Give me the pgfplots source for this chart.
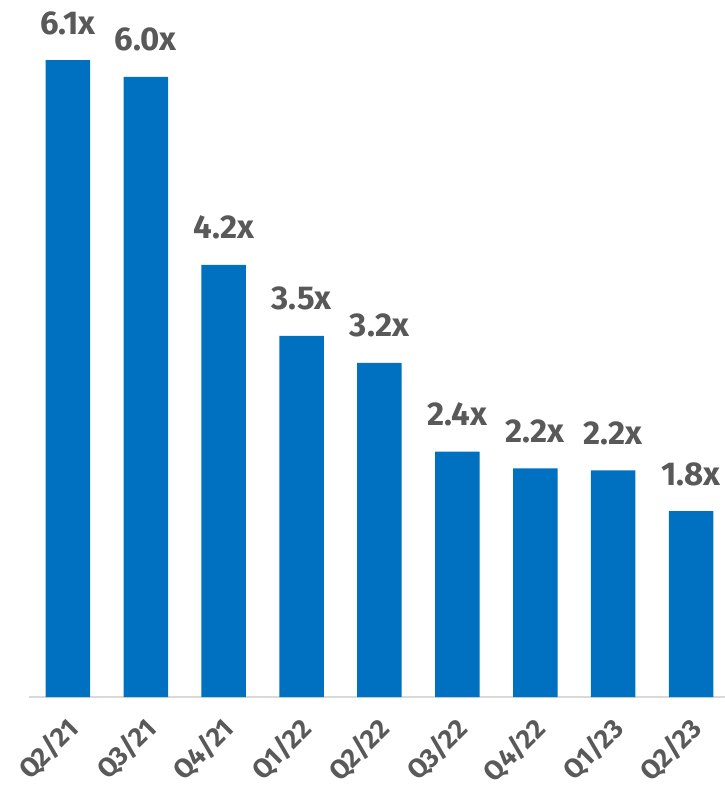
\documentclass[border=0pt]{standalone}
\usepackage{fontspec}
\setmainfont{Fira Sans}
\usepackage{pgfplots}
\pgfplotsset{compat=1.18}
\definecolor{barblue}{HTML}{0070C0}
\definecolor{lblgray}{HTML}{595959}
\definecolor{axgray}{HTML}{D9D9D9}
\begin{document}
\begin{tikzpicture}
\begin{axis}[
  width=348pt, height=348.5pt, scale only axis,
  xmin=-0.5, xmax=8.436, ymin=0, ymax=6.676,
  axis y line=none, axis x line*=bottom,
  x axis line style={draw=axgray, line width=0.75pt, -},
  xtick=data,
  xticklabels={Q2/21,Q3/21,Q4/21,Q1/22,Q2/22,Q3/22,Q4/22,Q1/23,Q2/23},
  major tick length=0pt,
  xticklabel style={xshift=3pt, yshift=-13.5pt, rotate=45, anchor=east, inner sep=0pt,
    font=\bfseries\fontsize{13.5}{15}\selectfont, text=lblgray},
  ybar, bar width=22.25pt,
  nodes near coords, point meta=explicit symbolic,
  every node near coord/.append style={font=\bfseries\fontsize{16.5}{18}\selectfont,
    text=lblgray, inner sep=0pt, yshift=12.5pt},
  clip=false,
]
\addplot[fill=barblue, draw=none] table[meta=label] {
x y label
0 6.10 6.1x
1 5.94 6.0x
2 4.14 4.2x
3 3.46 3.5x
4 3.20 3.2x
5 2.35 2.4x
6 2.19 2.2x
7 2.17 2.2x
8 1.78 1.8x
};
\coordinate (sw) at (rel axis cs:0,0);
\coordinate (ne) at (rel axis cs:1,1);
\end{axis}
\pgfresetboundingbox
\path[use as bounding box] (sw) ++(-14.5pt,-48pt) rectangle (ne);
\end{tikzpicture}
\end{document}
